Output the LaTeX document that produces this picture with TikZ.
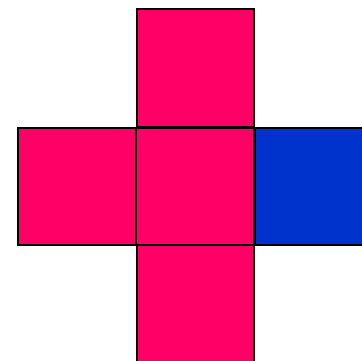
\documentclass[tikz,border=0pt]{standalone}
\usepackage{xcolor}
\usepackage{tikz}
\definecolor{netpink}{HTML}{FF0066}
\definecolor{netblue}{HTML}{0033CC}
\tikzset{
  face/.style={draw=black, fill=#1, line width=1.4pt},
  face/.default=netpink,
}

\begin{document}
\begin{tikzpicture}[x=1pt, y=-1pt]
    \useasboundingbox (0,0) rectangle (362,361);
    \clip (0,0) rectangle (362,361);
    % net of the cube
    \draw[face] (137,9) rectangle (254,127);
    \draw[face] (18,128) rectangle (136,245);
    \draw[face] (136,128) rectangle (254,245);
    \draw[face=netblue] (255,128) rectangle (370,245);
    \draw[face] (137,245) rectangle (254,370);
\end{tikzpicture}
\end{document}
